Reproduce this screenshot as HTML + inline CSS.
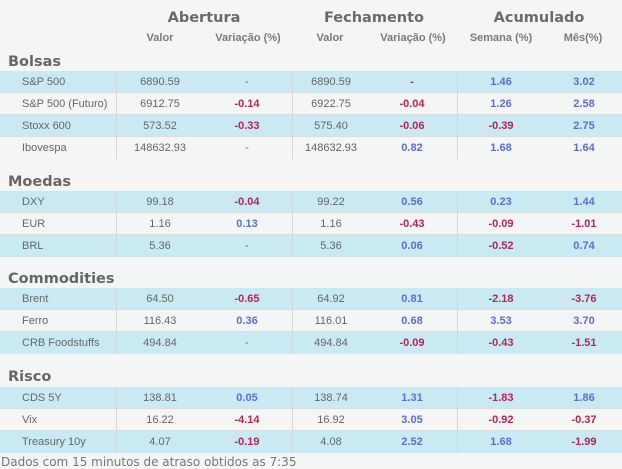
<!DOCTYPE html>
<html><head><meta charset="utf-8"><style>
*{margin:0;padding:0;box-sizing:border-box}
body{width:622px;height:467px;background:#f4f5f5;position:relative;overflow:hidden;font-family:"Liberation Sans",Arial,sans-serif;color:#666}
.a{position:absolute;white-space:nowrap}
.h1{font-family:"DejaVu Sans",sans-serif;font-weight:bold;font-size:14.5px;color:#6a6a6a;transform:translateX(-50%)}
.h2{font-weight:bold;font-size:11px;color:#7a7a7a;transform:translateX(-50%)}
.sec{font-family:"DejaVu Sans",sans-serif;font-weight:bold;font-size:14.5px;color:#666;left:8px}
.row{position:absolute;left:0;width:622px;border-bottom:1px solid #dcdcdc}
.b{background:#c9eaf3}
.w{background:#f4f5f5}
.row span{position:absolute;top:50%;transform:translate(-50%,-50%);font-size:11px;color:#666;white-space:nowrap}
.row span.n{transform:translate(0,-50%);left:22px}
.row span.p{color:#5b6fd0;font-weight:bold}
.row span.m{color:#b52652;font-weight:bold}
.v{position:absolute;width:1px;background:#d6d6d6}
.foot{font-family:"DejaVu Sans",sans-serif;font-size:12px;color:#777;left:1px;top:455px}
</style></head><body>
<div class="a h1" style="left:204px;top:10px">Abertura</div>
<div class="a h1" style="left:374px;top:10px">Fechamento</div>
<div class="a h1" style="left:539px;top:10px">Acumulado</div>
<div class="a h2" style="left:160px;top:32px">Valor</div>
<div class="a h2" style="left:248px;top:32px">Variação (%)</div>
<div class="a h2" style="left:330px;top:32px">Valor</div>
<div class="a h2" style="left:413px;top:32px">Variação (%)</div>
<div class="a h2" style="left:501px;top:32px">Semana (%)</div>
<div class="a h2" style="left:583px;top:32px">Mês(%)</div>

<div class="a sec" style="top:54px">Bolsas</div>
<div class="row b" style="top:71px;height:22px"><span class="n">S&amp;P 500</span><span style="left:160px">6890.59</span><span style="left:247px">-</span><span style="left:331px">6890.59</span><span class="m" style="left:412px">-</span><span class="p" style="left:501px">1.46</span><span class="p" style="left:584px">3.02</span></div>
<div class="row w" style="top:93px;height:22px"><span class="n">S&amp;P 500 (Futuro)</span><span style="left:160px">6912.75</span><span class="m" style="left:247px">-0.14</span><span style="left:331px">6922.75</span><span class="m" style="left:412px">-0.04</span><span class="p" style="left:501px">1.26</span><span class="p" style="left:584px">2.58</span></div>
<div class="row b" style="top:115px;height:22px"><span class="n">Stoxx 600</span><span style="left:160px">573.52</span><span class="m" style="left:247px">-0.33</span><span style="left:331px">575.40</span><span class="m" style="left:412px">-0.06</span><span class="m" style="left:501px">-0.39</span><span class="p" style="left:584px">2.75</span></div>
<div class="row w" style="top:137px;height:22px;border-bottom:none"><span class="n">Ibovespa</span><span style="left:160px">148632.93</span><span style="left:247px">-</span><span style="left:331px">148632.93</span><span class="p" style="left:412px">0.82</span><span class="p" style="left:501px">1.68</span><span class="p" style="left:584px">1.64</span></div>

<div class="a sec" style="top:174px">Moedas</div>
<div class="row b" style="top:191px;height:22px"><span class="n">DXY</span><span style="left:160px">99.18</span><span class="m" style="left:247px">-0.04</span><span style="left:331px">99.22</span><span class="p" style="left:412px">0.56</span><span class="p" style="left:501px">0.23</span><span class="p" style="left:584px">1.44</span></div>
<div class="row w" style="top:213px;height:22px"><span class="n">EUR</span><span style="left:160px">1.16</span><span class="p" style="left:247px">0.13</span><span style="left:331px">1.16</span><span class="m" style="left:412px">-0.43</span><span class="m" style="left:501px">-0.09</span><span class="m" style="left:584px">-1.01</span></div>
<div class="row b" style="top:235px;height:22px;border-bottom:none"><span class="n">BRL</span><span style="left:160px">5.36</span><span style="left:247px">-</span><span style="left:331px">5.36</span><span class="p" style="left:412px">0.06</span><span class="m" style="left:501px">-0.52</span><span class="p" style="left:584px">0.74</span></div>

<div class="a sec" style="top:271px">Commodities</div>
<div class="row b" style="top:288px;height:22px"><span class="n">Brent</span><span style="left:160px">64.50</span><span class="m" style="left:247px">-0.65</span><span style="left:331px">64.92</span><span class="p" style="left:412px">0.81</span><span class="m" style="left:501px">-2.18</span><span class="m" style="left:584px">-3.76</span></div>
<div class="row w" style="top:310px;height:22px"><span class="n">Ferro</span><span style="left:160px">116.43</span><span class="p" style="left:247px">0.36</span><span style="left:331px">116.01</span><span class="p" style="left:412px">0.68</span><span class="p" style="left:501px">3.53</span><span class="p" style="left:584px">3.70</span></div>
<div class="row b" style="top:332px;height:22px;border-bottom:none"><span class="n">CRB Foodstuffs</span><span style="left:160px">494.84</span><span style="left:247px">-</span><span style="left:331px">494.84</span><span class="m" style="left:412px">-0.09</span><span class="m" style="left:501px">-0.43</span><span class="m" style="left:584px">-1.51</span></div>

<div class="a sec" style="top:369px">Risco</div>
<div class="row b" style="top:387px;height:22px"><span class="n">CDS 5Y</span><span style="left:160px">138.81</span><span class="p" style="left:247px">0.05</span><span style="left:331px">138.74</span><span class="p" style="left:412px">1.31</span><span class="m" style="left:501px">-1.83</span><span class="p" style="left:584px">1.86</span></div>
<div class="row w" style="top:409px;height:22px"><span class="n">Vix</span><span style="left:160px">16.22</span><span class="m" style="left:247px">-4.14</span><span style="left:331px">16.92</span><span class="p" style="left:412px">3.05</span><span class="m" style="left:501px">-0.92</span><span class="m" style="left:584px">-0.37</span></div>
<div class="row b" style="top:431px;height:22px;border-bottom:none"><span class="n">Treasury 10y</span><span style="left:160px">4.07</span><span class="m" style="left:247px">-0.19</span><span style="left:331px">4.08</span><span class="p" style="left:412px">2.52</span><span class="p" style="left:501px">1.68</span><span class="m" style="left:584px">-1.99</span></div>

<div class="v" style="left:116px;top:71px;height:88px"></div>
<div class="v" style="left:292px;top:71px;height:88px"></div>
<div class="v" style="left:457px;top:71px;height:88px"></div>
<div class="v" style="left:116px;top:191px;height:66px"></div>
<div class="v" style="left:292px;top:191px;height:66px"></div>
<div class="v" style="left:457px;top:191px;height:66px"></div>
<div class="v" style="left:116px;top:288px;height:66px"></div>
<div class="v" style="left:292px;top:288px;height:66px"></div>
<div class="v" style="left:457px;top:288px;height:66px"></div>
<div class="v" style="left:116px;top:387px;height:66px"></div>
<div class="v" style="left:292px;top:387px;height:66px"></div>
<div class="v" style="left:457px;top:387px;height:66px"></div>

<div class="a foot">Dados com 15 minutos de atraso obtidos as 7:35</div>
</body></html>
